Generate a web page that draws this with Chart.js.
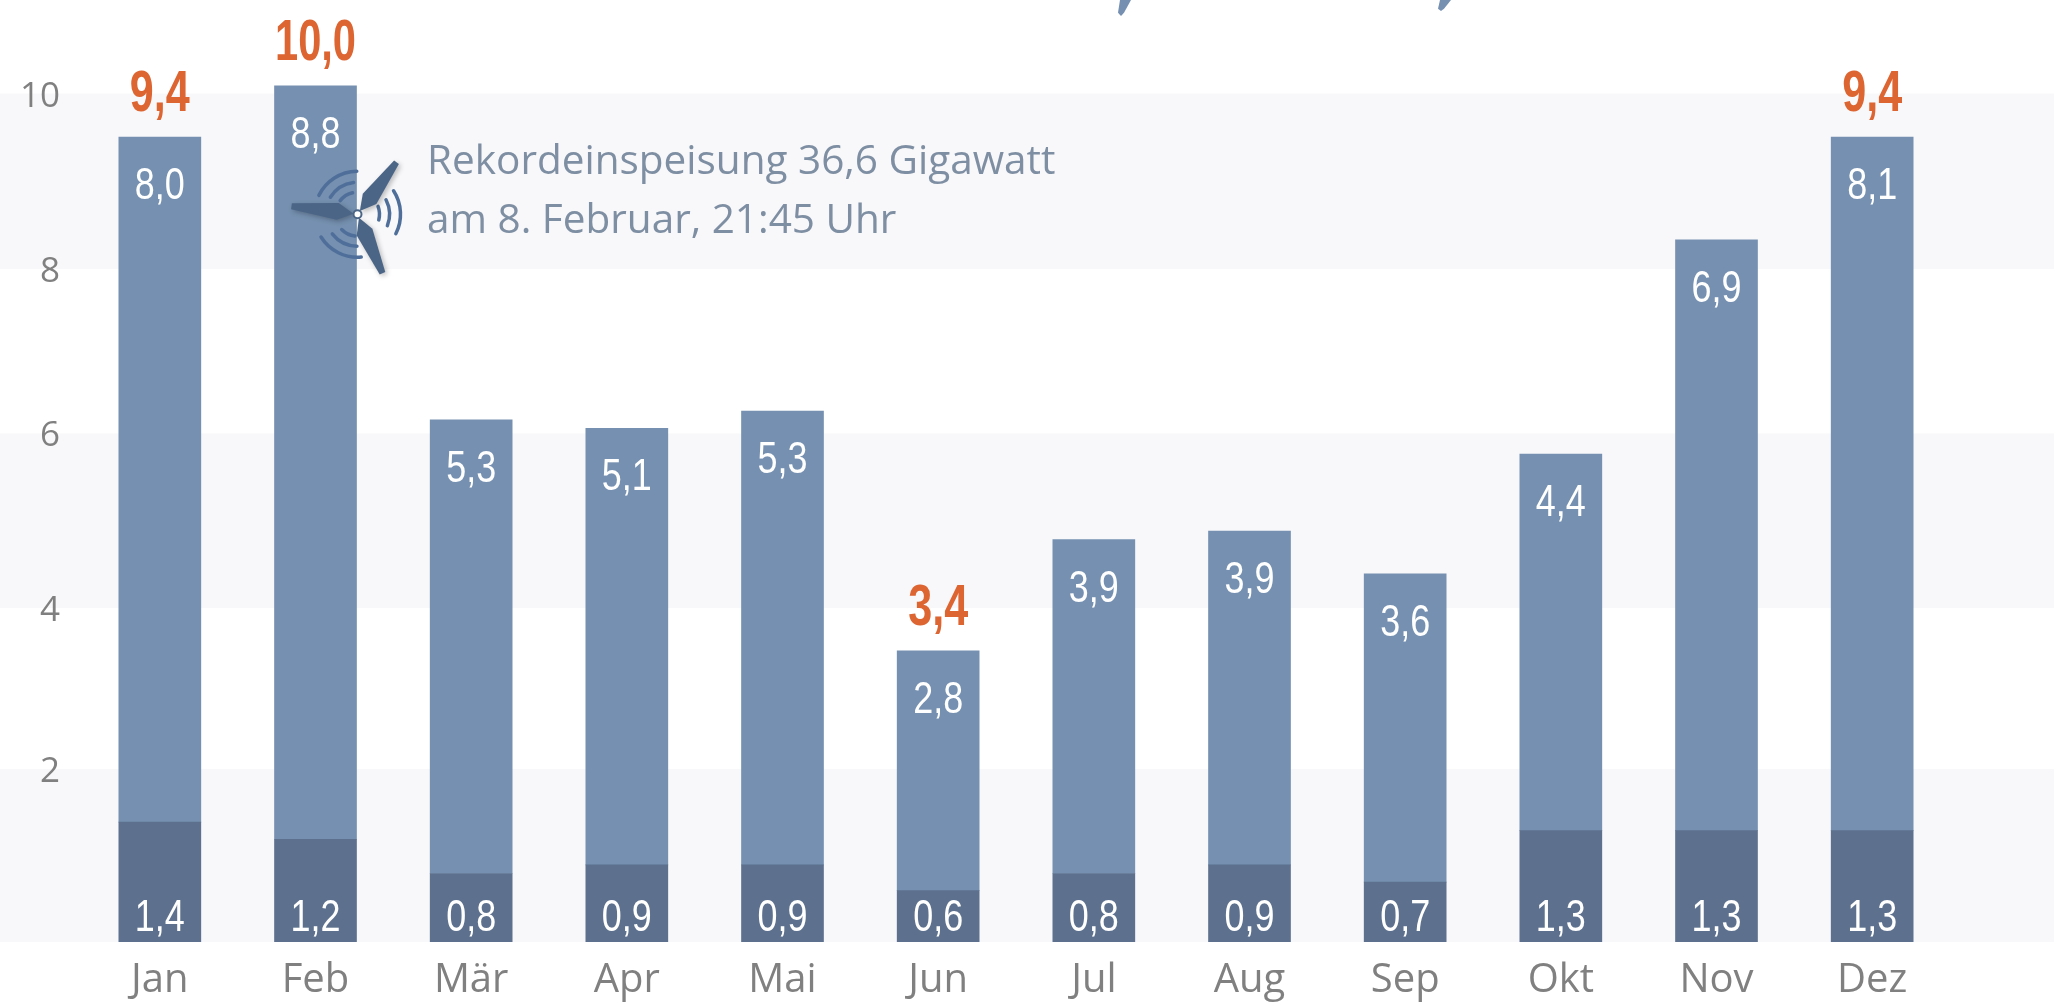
<!DOCTYPE html>
<html lang="de">
<head>
<meta charset="utf-8">
<title>Windstrom</title>
<script src="https://cdn.jsdelivr.net/npm/chart.js@4/dist/chart.umd.min.js"></script>
<style>
  html, body { margin: 0; padding: 0; background: #fff; }
  canvas { display: block; }
</style>
</head>
<body>
<canvas id="grafico" width="2054" height="1006"></canvas>
<script>
// ========== DATEN ==========
const monate = ["Jan", "Feb", "Mär", "Apr", "Mai", "Jun", "Jul", "Aug", "Sep", "Okt", "Nov", "Dez"];
const unten = [1.4, 1.2, 0.8, 0.9, 0.9, 0.6, 0.8, 0.9, 0.7, 1.3, 1.3, 1.3];
const oben = [8.0, 8.8, 5.3, 5.1, 5.3, 2.8, 3.9, 3.9, 3.6, 4.4, 6.9, 8.1];
const summen = [9.4, 10.0, null, null, null, 3.4, null, null, null, null, null, 9.4];
const tickWerte = [1.98, 3.86, 5.91, 7.83, 9.87];
const tickTexte = ["2", "4", "6", "8", "10"];
const baender = [[0, 2.02], [3.9, 5.94], [7.86, 9.91]];
const notiz = ["Rekordeinspeisung 36,6 Gigawatt", "am 8. Februar, 21:45 Uhr"];

const komma = v => v.toFixed(1).replace(".", ",");

// ========== BAENDER ==========
const baenderPlugin = {
  id: "baender",
  beforeDraw(chart) {
    const { ctx, width } = chart;
    const y = chart.scales.y;
    ctx.save();
    ctx.fillStyle = "#f8f8fa";
    baender.forEach(([von, bis]) => {
      const y1 = y.getPixelForValue(bis);
      ctx.fillRect(0, y1, width, y.getPixelForValue(von) - y1);
    });
    ctx.restore();
  }
};

// ========== ETIKETTEN ==========
const etikettenPlugin = {
  id: "etiketten",
  afterDatasetsDraw(chart) {
    const { ctx } = chart;
    const { x, y } = chart.scales;
    ctx.save();
    ctx.textAlign = "center";
    ctx.textBaseline = "middle";
    monate.forEach((m, i) => {
      const px = x.getPixelForValue(i);
      const basis = y.getPixelForValue(0);
      const top = y.getPixelForValue(unten[i] + oben[i]);
      ctx.fillStyle = "#ffffff";
      ctx.font = '44px "Liberation Sans", sans-serif';
      ctx.fillText(komma(unten[i]), px, basis - 23, 50);
      ctx.fillText(komma(oben[i]), px, top + 50, 50);
      if (summen[i] !== null) {
        const text = komma(summen[i]);
        ctx.fillStyle = "#dd6532";
        ctx.font = 'bold 57px "Liberation Sans", sans-serif';
        ctx.fillText(text, px, top - 42, 21 * text.length - 3);
      }
    });
    ctx.fillStyle = "#7f8fa3";
    ctx.font = '40.5px "Open Sans", sans-serif';
    ctx.textAlign = "left";
    ctx.fillText(notiz[0], 427, 162);
    ctx.fillText(notiz[1], 427, 221);
    ctx.restore();
  }
};

// ========== WINDRAD UND TITELRESTE ==========
function fluegel(ctx, hx, hy, dx, dy) {
  const nx = -dy / Math.hypot(dx, dy);
  const ny = dx / Math.hypot(dx, dy);
  ctx.beginPath();
  ctx.moveTo(hx + dx * 0.06, hy + dy * 0.06);
  ctx.lineTo(hx + dx * 0.3 + nx * 9, hy + dy * 0.3 + ny * 9);
  ctx.lineTo(hx + dx + nx * 3, hy + dy + ny * 3);
  ctx.lineTo(hx + dx - nx * 3, hy + dy - ny * 3);
  ctx.lineTo(hx + dx * 0.3 - nx * 8, hy + dy * 0.3 - ny * 8);
  ctx.closePath();
  ctx.fill();
}

const windradPlugin = {
  id: "windrad",
  afterDatasetsDraw(chart) {
    const { ctx } = chart;
    const hx = chart.scales.x.getPixelForValue(1) + 42;
    const hy = chart.scales.y.getPixelForValue(8.5);
    const grad = g => g * Math.PI / 180;
    ctx.save();
    ctx.strokeStyle = "#4f6f9a";
    ctx.lineWidth = 3.5;
    ctx.lineCap = "round";
    [[206, 269], [85, 148], [-33, 27]].forEach(([a, b]) => {
      [[22, 12], [32, 6], [43, 0]].forEach(([r, kurz]) => {
        ctx.beginPath();
        ctx.arc(hx, hy, r, grad(a + kurz), grad(b - kurz));
        ctx.stroke();
      });
    });
    ctx.shadowColor = "rgba(0,0,0,0.25)";
    ctx.shadowBlur = 5;
    ctx.shadowOffsetX = 2;
    ctx.shadowOffsetY = 2;
    ctx.fillStyle = "#4b6587";
    fluegel(ctx, hx, hy, -66, -8);
    fluegel(ctx, hx, hy, 39, -52);
    fluegel(ctx, hx, hy, 25, 59);
    ctx.shadowColor = "transparent";
    ctx.beginPath();
    ctx.arc(hx, hy, 4, 0, Math.PI * 2);
    ctx.fillStyle = "#ffffff";
    ctx.fill();
    ctx.strokeStyle = "#4b6587";
    ctx.lineWidth = 2;
    ctx.stroke();

    // Unterlaengen der abgeschnittenen Titelzeile
    ctx.fillStyle = "#7590b0";
    [[1131, 1118, 16], [1451, 1438, 11]].forEach(([a, b, h]) => {
      ctx.beginPath();
      ctx.moveTo(a, 0);
      ctx.lineTo(a - 7, h * 0.8);
      ctx.lineTo(b + 3, h);
      ctx.lineTo(b, h * 0.8);
      ctx.lineTo(b + 2, 0);
      ctx.closePath();
      ctx.fill();
    });
    ctx.restore();
  }
};

// ========== GRAFIK ==========
new Chart(document.getElementById("grafico"), {
  type: "bar",
  data: {
    labels: monate,
    datasets: [
      { label: "unten", data: unten, backgroundColor: "#5d718e", borderWidth: 0 },
      { label: "oben", data: oben, backgroundColor: "#7590b0", borderWidth: 0 }
    ]
  },
  options: {
    responsive: false,
    animation: false,
    barThickness: 82,
    layout: { padding: { top: 5, right: 104, bottom: 0, left: 0 } },
    plugins: { legend: { display: false }, tooltip: { enabled: false } },
    scales: {
      x: {
        stacked: true,
        grid: { display: false, drawTicks: false },
        border: { display: false },
        afterFit(scale) { scale.height = 64; },
        ticks: {
          padding: 15,
          color: "#808080",
          maxRotation: 0,
          font: { family: '"Open Sans", sans-serif', size: 40 }
        }
      },
      y: {
        stacked: true,
        min: 0,
        max: 10.5,
        grid: { display: false, drawTicks: false },
        border: { display: false },
        afterFit(scale) { scale.width = 82; },
        afterBuildTicks(scale) { scale.ticks = tickWerte.map(v => ({ value: v })); },
        ticks: {
          padding: 22,
          color: "#808080",
          autoSkip: false,
          font: { family: '"Open Sans", sans-serif', size: 35 },
          callback(value) { return tickTexte[tickWerte.indexOf(value)]; }
        }
      }
    }
  },
  plugins: [baenderPlugin, etikettenPlugin, windradPlugin]
});
</script>
</body>
</html>
